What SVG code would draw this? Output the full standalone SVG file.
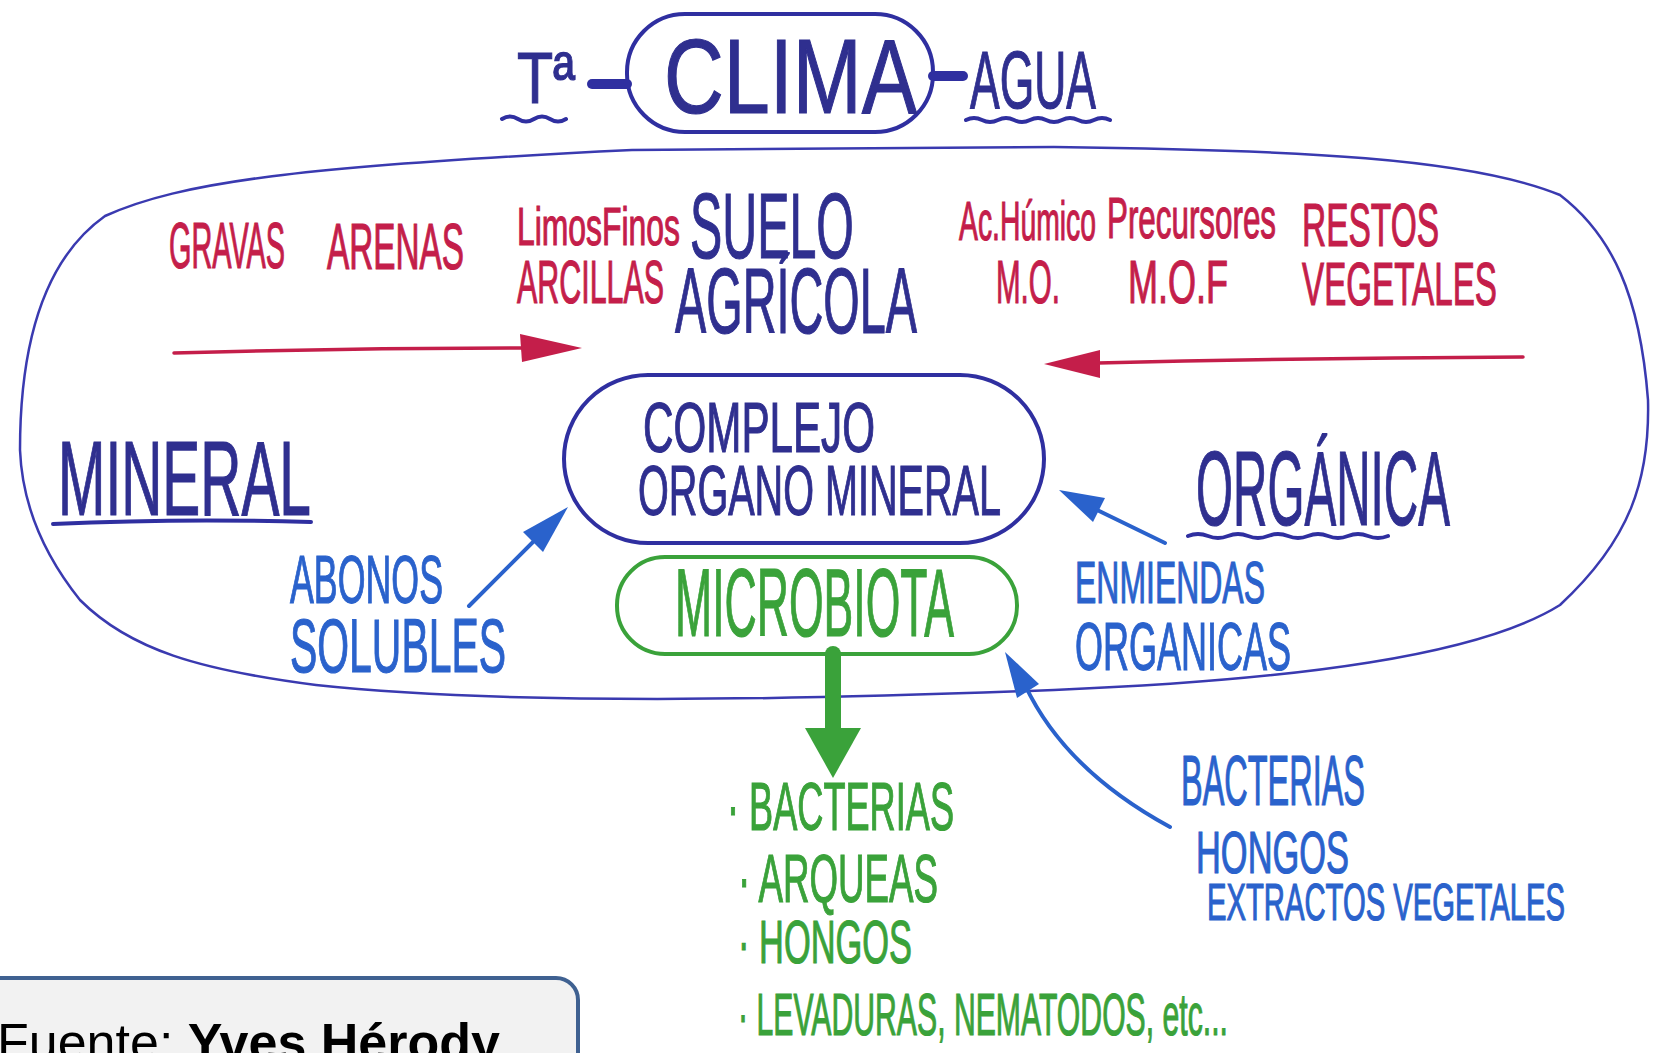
<svg xmlns="http://www.w3.org/2000/svg" width="1653" height="1053" viewBox="0 0 1653 1053">
<defs>
<style>
.h{font-family:"Liberation Sans","DejaVu Sans",sans-serif;stroke-width:1.2;}
.red{fill:#c41e4a;stroke:#c41e4a;}
.navy{fill:#2f2f8f;stroke:#2f2f8f;}
.blue{fill:#2a62cc;stroke:#2a62cc;}
.green{fill:#3aa23a;stroke:#3aa23a;}
.ln{fill:none;stroke-linecap:round;stroke-linejoin:round;}
</style>
</defs>
<rect width="1653" height="1053" fill="#ffffff"/>

<g id="outer-soil">
<path class="ln" stroke="#3a3ab0" stroke-width="2.5" d="M105,216 C180,182 300,166 632,150 L1054,147 C1300,150 1470,158 1560,195 C1612,235 1640,295 1648,400 C1650,480 1630,540 1560,605 C1480,655 1300,680 1054,690 C800,700 500,705 316,685 C200,670 130,650 80,600 C40,550 22,500 20,450 C20,330 50,255 105,216 Z"/>
</g>

<g id="clima">
<rect x="627" y="14" width="306" height="118" rx="58" class="ln" stroke="#2f2fa0" stroke-width="4"/>
<text class="h navy" x="664" y="113" font-size="105" textLength="253" lengthAdjust="spacingAndGlyphs">CLIMA</text>
</g>
<g id="temp">
<text class="h navy" x="517" y="103" font-size="72" textLength="58" lengthAdjust="spacingAndGlyphs">Tª</text>
<path class="ln" stroke="#2f2fa0" stroke-width="4" d="M502,119 q8,-5 16,0 t16,0 t16,0 t16,0"/>
</g>
<g id="agua">
<text class="h navy" x="970" y="108" font-size="82" textLength="126" lengthAdjust="spacingAndGlyphs">AGUA</text>
<path class="ln" stroke="#2f2fa0" stroke-width="4" d="M966,120 q8,-4 16,0 t16,0 t16,0 t16,0 t16,0 t16,0 t16,0 t16,0 t16,0"/>
</g>

<g id="suelo">
<text class="h navy" x="690" y="258" font-size="92" textLength="164" lengthAdjust="spacingAndGlyphs">SUELO</text>
<text class="h navy" x="675" y="333" font-size="92" textLength="242" lengthAdjust="spacingAndGlyphs">AGRÍCOLA</text>
</g>

<g id="mineral-items">
<text class="h red" x="169" y="268" font-size="64" textLength="116" lengthAdjust="spacingAndGlyphs">GRAVAS</text>
<text class="h red" x="327" y="269" font-size="64" textLength="137" lengthAdjust="spacingAndGlyphs">ARENAS</text>
<text class="h red" x="517" y="245" font-size="54" textLength="163" lengthAdjust="spacingAndGlyphs">LimosFinos</text>
<text class="h red" x="517" y="303" font-size="62" textLength="147" lengthAdjust="spacingAndGlyphs">ARCILLAS</text>
</g>

<g id="organic-items">
<text class="h red" x="959" y="240" font-size="56" textLength="137" lengthAdjust="spacingAndGlyphs">Ac.Húmico</text>
<text class="h red" x="1107" y="238" font-size="58" textLength="169" lengthAdjust="spacingAndGlyphs">Precursores</text>
<text class="h red" x="996" y="303" font-size="62" textLength="64" lengthAdjust="spacingAndGlyphs">M.O.</text>
<text class="h red" x="1128" y="303" font-size="62" textLength="100" lengthAdjust="spacingAndGlyphs">M.O.F</text>
<text class="h red" x="1302" y="246" font-size="62" textLength="137" lengthAdjust="spacingAndGlyphs">RESTOS</text>
<text class="h red" x="1302" y="305" font-size="62" textLength="195" lengthAdjust="spacingAndGlyphs">VEGETALES</text>
</g>

<g id="mineral">
<text class="h navy" x="58" y="515" font-size="105" textLength="253" lengthAdjust="spacingAndGlyphs">MINERAL</text>
<path class="ln" stroke="#2f2fa0" stroke-width="4" d="M53,524 Q180,518 311,522"/>
</g>
<g id="organica">
<text class="h navy" x="1196" y="525" font-size="105" textLength="254" lengthAdjust="spacingAndGlyphs">ORGÁNICA</text>
<path class="ln" stroke="#2f2fa0" stroke-width="4" d="M1188,536 q10,-4 20,0 t20,0 t20,0 t20,0 t20,0 t20,0 t20,0 t20,0 t20,0 t20,0"/>
</g>

<g id="complejo">
<rect x="564" y="375" width="480" height="168" rx="84" class="ln" stroke="#2f2fa0" stroke-width="4"/>
<text class="h navy" x="643" y="452" font-size="70" textLength="232" lengthAdjust="spacingAndGlyphs">COMPLEJO</text>
<text class="h navy" x="638" y="515" font-size="70" textLength="363" lengthAdjust="spacingAndGlyphs">ORGANO MINERAL</text>
</g>

<g id="microbiota">
<rect x="617" y="557" width="400" height="97" rx="48" class="ln" stroke="#3aa23a" stroke-width="4"/>
<text class="h green" x="675" y="636" font-size="96" textLength="279" lengthAdjust="spacingAndGlyphs">MICROBIOTA</text>
</g>

<g id="abonos">
<text class="h blue" x="290" y="603" font-size="68" textLength="153" lengthAdjust="spacingAndGlyphs">ABONOS</text>
<text class="h blue" x="290" y="672" font-size="76" textLength="216" lengthAdjust="spacingAndGlyphs">SOLUBLES</text>
</g>

<g id="enmiendas">
<text class="h blue" x="1075" y="603" font-size="60" textLength="190" lengthAdjust="spacingAndGlyphs">ENMIENDAS</text>
<text class="h blue" x="1075" y="670" font-size="68" textLength="216" lengthAdjust="spacingAndGlyphs">ORGANICAS</text>
</g>

<g id="bioestimulantes">
<text class="h blue" x="1181" y="805" font-size="70" textLength="184" lengthAdjust="spacingAndGlyphs">BACTERIAS</text>
<text class="h blue" x="1196" y="873" font-size="60" textLength="153" lengthAdjust="spacingAndGlyphs">HONGOS</text>
<text class="h blue" x="1207" y="920" font-size="52" textLength="358" lengthAdjust="spacingAndGlyphs">EXTRACTOS VEGETALES</text>
</g>

<g id="microbiota-list">
<text class="h green" x="727" y="830" font-size="68" textLength="227" lengthAdjust="spacingAndGlyphs">· BACTERIAS</text>
<text class="h green" x="738" y="902" font-size="68" textLength="200" lengthAdjust="spacingAndGlyphs">· ARQUEAS</text>
<text class="h green" x="738" y="963" font-size="62" textLength="174" lengthAdjust="spacingAndGlyphs">· HONGOS</text>
<text class="h green" x="738" y="1035" font-size="60" textLength="490" lengthAdjust="spacingAndGlyphs">· LEVADURAS, NEMATODOS, etc...</text>
</g>

<g id="connectors">
<path class="ln" stroke="#2f2fa0" stroke-width="10" d="M592,84 L627,84"/>
<path class="ln" stroke="#2f2fa0" stroke-width="10" d="M933,76 L963,76"/>
<path class="ln" stroke="#c41e4a" stroke-width="3.5" d="M174,353 Q350,348 525,348"/>
<polygon fill="#c41e4a" points="520,334 582,348 522,362"/>
<path class="ln" stroke="#c41e4a" stroke-width="3.5" d="M1523,357 Q1300,358 1098,363"/>
<polygon fill="#c41e4a" points="1100,350 1044,364 1100,378"/>
<path class="ln" stroke="#2a62cc" stroke-width="4" d="M469,606 L540,535"/>
<polygon fill="#2a62cc" points="568,507 543,552 523,532"/>
<path class="ln" stroke="#2a62cc" stroke-width="4" d="M1165,543 L1095,509"/>
<polygon fill="#2a62cc" points="1059,490 1105,498 1093,522"/>
<path class="ln" stroke="#2a62cc" stroke-width="4" d="M1170,827 Q1065,770 1025,685"/>
<polygon fill="#2a62cc" points="1005,652 1039,684 1017,698"/>
<path class="ln" stroke="#3aa23a" stroke-width="16" stroke-linecap="butt" d="M833,654 L833,732"/>
<polygon fill="#3aa23a" points="805,728 861,728 833,778"/>
</g>

<g id="fuente">
<rect x="-20" y="978" width="598" height="130" rx="22" fill="#f2f2f2" stroke="#3f6191" stroke-width="4"/>
<text x="-3" y="1060" font-family="Liberation Sans, Arial, sans-serif" font-size="52" fill="#000">Fuente: <tspan font-weight="bold">Yves Hérody</tspan></text>
</g>
</svg>
